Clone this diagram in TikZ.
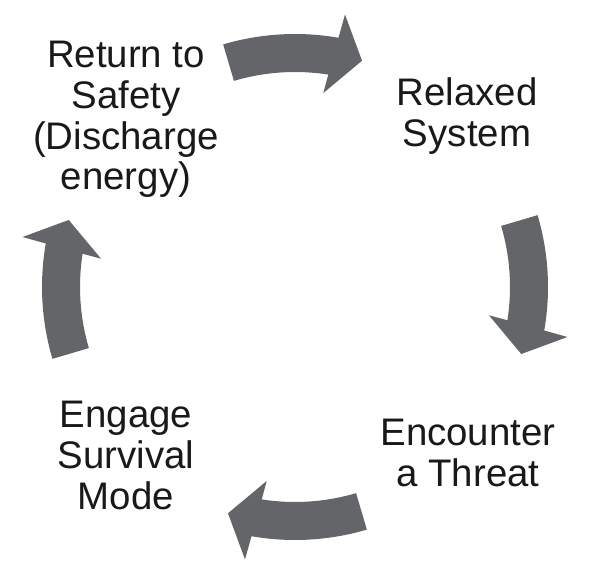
\documentclass[tikz,border=0pt]{standalone}
\usepackage{fontspec}
\setmainfont{Liberation Sans}
\usetikzlibrary{positioning}
\definecolor{arrowgrey}{RGB}{100,101,105}
\tikzset{
    %Define style for the stage labels
    stage/.style={
           align=center,
           inner sep=0pt,
           text=black!90,
           font=\fontsize{19.2}{20.3}\selectfont},
    %Define style for the curved block arrows
    blockarrow/.style={
           fill=arrowgrey,
           draw=none}
}
\begin{document}
\begin{tikzpicture}[x=0.5pt,y=0.5pt]
\useasboundingbox (0,0) rectangle (598,578);
 %centre of the cycle
\coordinate (hub) at (295,291);
 %nodes
\node[stage] (relax) at (467,462) {Relaxed\\System};
\node[stage] (threat) at (468,125) {Encounter\\a Threat};
\node[stage] (survival) at (126,122.5) {Engage\\Survival\\Mode};
\node[stage] (safety) at (126,458.5) {Return to\\Safety\\(Discharge\\energy)};

 %arrows, clockwise round the hub
\foreach \a in {90,0,-90,180}
  \fill[blockarrow, shift={(hub)}, rotate=\a]
    (16.5:253) arc[start angle=16.5, end angle=-9.9, radius=253]
    -- (-10.4:277) -- (-16.5:236) -- (-8.3:196) -- (-8.9:215)
    arc[start angle=-8.9, end angle=16.5, radius=215] -- cycle;

\end{tikzpicture}
\end{document}
